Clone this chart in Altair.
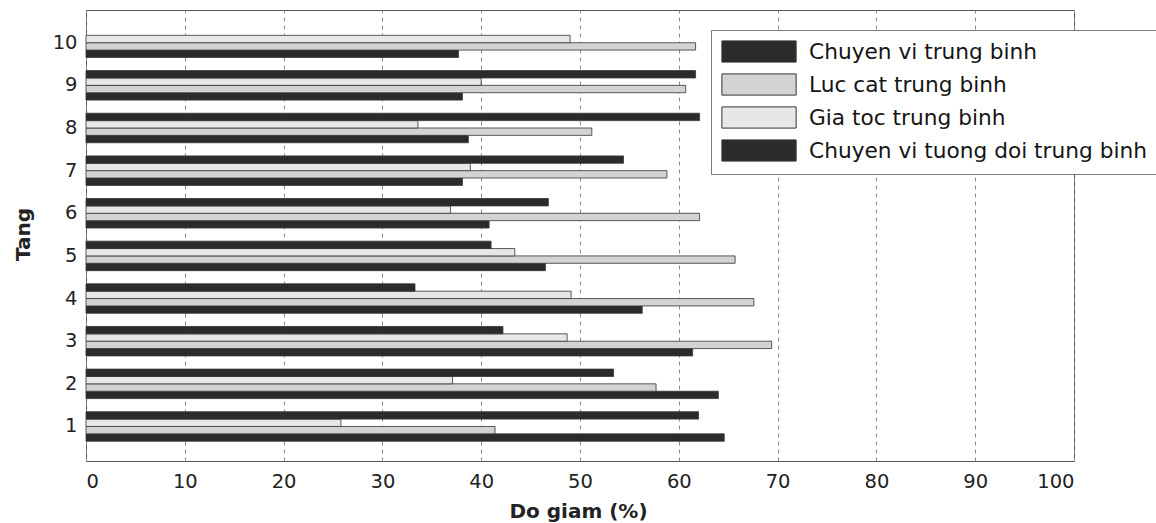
import altair as alt
import pandas as pd

# Floors (Tang) and the four averaged reduction series, in percent
floors = [1, 2, 3, 4, 5, 6, 7, 8, 9, 10]
series_names = [
    "Chuyen vi trung binh",
    "Luc cat trung binh",
    "Gia toc trung binh",
    "Chuyen vi tuong doi trung binh",
]
chuyen_vi = [64.6, 64.0, 61.4, 56.3, 46.5, 40.8, 38.1, 38.7, 38.1, 37.7]
luc_cat = [41.4, 57.7, 69.4, 67.6, 65.7, 62.1, 58.8, 51.2, 60.7, 61.7]
gia_toc = [25.8, 37.1, 48.7, 49.1, 43.4, 36.9, 38.9, 33.6, 40.0, 49.0]
chuyen_vi_td = [62.0, 53.4, 42.2, 33.3, 41.0, 46.8, 54.4, 62.1, 61.7, None]

series_colors = ["#2b2b2b", "#d3d3d3", "#e7e7e7", "#2b2b2b"]
x_ticks = [0, 10, 20, 30, 40, 50, 60, 70, 80, 90, 100]

rows = []
for name, vals in zip(series_names, [chuyen_vi, luc_cat, gia_toc, chuyen_vi_td]):
    for f, v in zip(floors, vals):
        if v is not None:
            rows.append({"Tang": f, "series": name, "value": v})
df = pd.DataFrame(rows)

FONT = "DejaVu Sans"

# wide legend swatch: a rectangle 7 units wide and 2 units tall, anchored at its left
SWATCH = "M-1,-1L6,-1L6,1L-1,1Z"

bars = alt.Chart(df).mark_bar(stroke="#333333", strokeWidth=0.8).encode(
    x=alt.X(
        "value:Q",
        scale=alt.Scale(domain=[0, 100], nice=False, zero=True),
        axis=alt.Axis(
            values=x_ticks,
            title="Do giam (%)",
            grid=True,
            gridDash=[4, 4],
            gridColor="#8a8a8a",
            gridWidth=1,
            ticks=False,
            tickSize=0,
            domain=False,
            labelBaseline="alphabetic",
            labelPadding=26.5,
            titleX=492,
            titleY=56,
            titleAlign="center",
            titleBaseline="alphabetic",
            zindex=0,
        ),
    ),
    y=alt.Y(
        "Tang:O",
        sort="descending",
        scale=alt.Scale(paddingInner=0.308, paddingOuter=0.4425, align=0.476),
        axis=alt.Axis(
            title="Tang",
            grid=False,
            ticks=False,
            tickSize=0,
            domain=False,
            labelPadding=9,
            labelBaseline="middle",
            titleAngle=270,
            titleX=-57,
            titleY=224,
            titleAlign="center",
            titleBaseline="alphabetic",
        ),
    ),
    yOffset=alt.YOffset(
        "series:N",
        sort=list(reversed(series_names)),
        scale=alt.Scale(paddingInner=0, paddingOuter=0),
    ),
    color=alt.Color(
        "series:N",
        scale=alt.Scale(domain=series_names, range=series_colors),
        legend=alt.Legend(
            title=None,
            orient="none",
            legendX=625,
            legendY=20,
            symbolType=SWATCH,
            symbolSize=450,
            symbolStrokeColor="#333333",
            symbolStrokeWidth=1,
            symbolOpacity=1,
            labelFont=FONT,
            labelFontSize=21.7,
            labelColor="#151515",
            labelOffset=65,
            labelLimit=0,
            padding=10,
            rowPadding=6,
            fillColor="white",
            strokeColor="#7a7a7a",
        ),
    ),
)

chart = bars.properties(
    width=988,
    height=451,
    autosize=alt.AutoSizeParams(type="none"),
    padding={"left": 86, "top": 10, "right": 82, "bottom": 62},
    background="white",
).configure_view(
    stroke="#555555", strokeWidth=1
).configure_axis(
    labelFont=FONT,
    labelFontSize=19.5,
    labelColor="#222222",
    titleFont=FONT,
    titleFontSize=20,
    titleFontWeight="bold",
    titleColor="#222222",
)

chart.save("out.html", embed_options={"renderer": "svg", "actions": False})
